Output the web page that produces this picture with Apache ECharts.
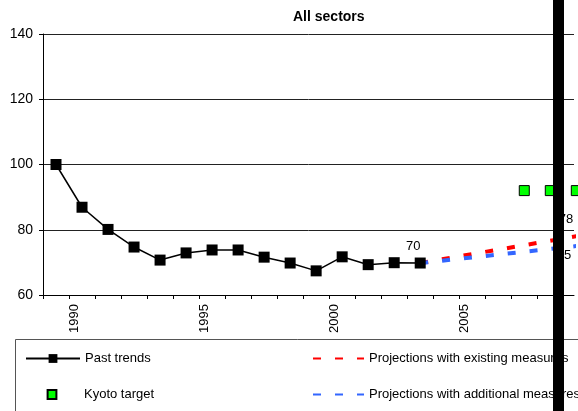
<!DOCTYPE html>
<html>
<head>
<meta charset="utf-8">
<script src="https://cdn.jsdelivr.net/npm/echarts@6/dist/echarts.min.js"></script>
<style>
  html, body { margin: 0; padding: 0; background: #fff; }
  #main { width: 578px; height: 411px; }
</style>
</head>
<body>
<div id="main"></div>
<script>
// past trends, index 1990 = 100
var pastYears = [1990, 1991, 1992, 1993, 1994, 1995, 1996, 1997, 1998, 1999, 2000, 2001, 2002, 2003, 2004];
var pastValues = [100, 86.9, 80.1, 74.7, 70.7, 72.9, 73.8, 73.8, 71.6, 69.8, 67.4, 71.7, 69.3, 69.9, 69.8];

// projections (start year, end year)
var projYears = [2004, 2010];
var projExisting = [69.8, 78];
var projAdditional = [69.8, 75];

// Kyoto target
var kyotoYears = [2008, 2009, 2010, 2011, 2012];
var kyotoValues = [92, 92, 92, 92, 92];

var xLabelYears = [1990, 1995, 2000, 2005];

var font = "'Liberation Sans', Arial, sans-serif";

function pairs(xs, ys) {
  return xs.map(function (x, i) { return [x, ys[i]]; });
}

function rounded(p) {
  return String(Math.round(p.value[1]));
}

// category boundaries, one tick per year
var tickValues = [];
for (var y = 1989.5; y <= 2010.5; y++) tickValues.push(y);

var labelShift = 0.7;

var myChart = echarts.init(document.getElementById("main"), null, { renderer: "canvas" });

var legendText = { fontSize: 13, color: "#000", fontFamily: font };

myChart.setOption({
  animation: false,
  backgroundColor: "#fff",
  textStyle: { fontFamily: font },
  title: {
    text: "All sectors",
    left: 288,
    top: 5,
    textStyle: { fontSize: 14, fontWeight: "bold", color: "#000", fontFamily: font },
  },
  grid: { left: 43, top: 34, right: 4, bottom: 116 },
  xAxis: {
    type: "value",
    min: 1989.5,
    max: 1989.5 + 530.7 / 26,
    axisLine: { lineStyle: { color: "#000", width: 1 } },
    axisTick: {
      show: true,
      length: 4,
      customValues: tickValues,
      lineStyle: { color: "#000" },
    },
    axisLabel: {
      rotate: 90,
      margin: 9,
      fontSize: 13,
      color: "#000",
      fontFamily: font,
      // labels sit to the right of the year's centre, as in the original
      customValues: xLabelYears.map(function (v) { return v + labelShift; }),
      formatter: function (v) { return String(Math.round(v - labelShift)); },
    },
    splitLine: { show: false },
  },
  yAxis: {
    type: "value",
    min: 60,
    max: 140,
    interval: 20,
    axisLine: { show: true, lineStyle: { color: "#000", width: 1 } },
    axisTick: { show: true, length: 4, lineStyle: { color: "#000" } },
    axisLabel: { fontSize: 14, color: "#000", margin: 10, fontFamily: font },
    splitLine: { show: true, lineStyle: { color: "#222", width: 1 } },
  },
  legend: [
    {
      data: ["Past trends"], left: 25, top: 352, padding: 0, itemWidth: 54, itemHeight: 11,
      textStyle: legendText, selectedMode: false,
    },
    {
      data: ["Kyoto target"], left: 25, top: 388, padding: 0, itemWidth: 54, itemHeight: 11,
      textStyle: legendText, selectedMode: false,
    },
    {
      data: ["Projections with existing measures"], left: 312, top: 352, padding: 0, itemWidth: 51, itemHeight: 11,
      itemStyle: { opacity: 0 },
      textStyle: legendText, selectedMode: false,
    },
    {
      data: ["Projections with additional measures"], left: 312, top: 388, padding: 0, itemWidth: 51, itemHeight: 11,
      itemStyle: { opacity: 0 },
      textStyle: legendText, selectedMode: false,
    },
  ],
  series: [
    {
      name: "Projections with existing measures",
      type: "line",
      clip: false,
      symbol: "none",
      data: pairs(projYears, projExisting),
      lineStyle: { color: "#ff0000", width: 4, type: [8, 14], cap: "butt" },
      itemStyle: { color: "#ff0000" },
      endLabel: {
        show: true,
        distance: 0,
        align: "center",
        verticalAlign: "middle",
        offset: [-10, -17],
        fontSize: 13,
        color: "#000",
        fontFamily: font,
        formatter: rounded,
      },
      z: 3,
    },
    {
      name: "Projections with additional measures",
      type: "line",
      clip: false,
      symbol: "none",
      data: pairs(projYears, projAdditional),
      lineStyle: { color: "#3366ff", width: 4, type: [8, 14], cap: "butt" },
      itemStyle: { color: "#3366ff" },
      endLabel: {
        show: true,
        distance: 0,
        align: "center",
        verticalAlign: "middle",
        offset: [-12, 9],
        fontSize: 13,
        color: "#000",
        fontFamily: font,
        formatter: rounded,
      },
      z: 4,
    },
    {
      name: "Past trends",
      type: "line",
      clip: false,
      symbol: "rect",
      symbolSize: 11,
      data: pairs(pastYears, pastValues).map(function (d, i) {
        if (i === pastYears.length - 1) {
          return {
            value: d,
            label: {
              show: true,
              position: "top",
              distance: 5,
              offset: [-7, 0],
              fontSize: 13,
              color: "#000",
              fontFamily: font,
              formatter: rounded,
            },
          };
        }
        return d;
      }),
      lineStyle: { color: "#000", width: 1.5 },
      itemStyle: { color: "#000" },
      z: 5,
    },
    {
      name: "Kyoto target",
      type: "line",
      clip: false,
      symbol: "rect",
      symbolSize: 10,
      data: pairs(kyotoYears, kyotoValues),
      lineStyle: { width: 0 },
      itemStyle: { color: "#00ff00", borderColor: "#000", borderWidth: 1 },
      z: 5,
    },
  ],
  graphic: [
    {
      type: "rect",
      shape: { x: 15.5, y: 339.5, width: 700, height: 200 },
      style: { fill: "none", stroke: "#555", lineWidth: 1 },
      z: 1,
    },
    {
      type: "rect",
      shape: { x: 553, y: 0, width: 11, height: 411 },
      style: { fill: "#000" },
      z: 100,
    },
  ],
});
</script>
</body>
</html>
